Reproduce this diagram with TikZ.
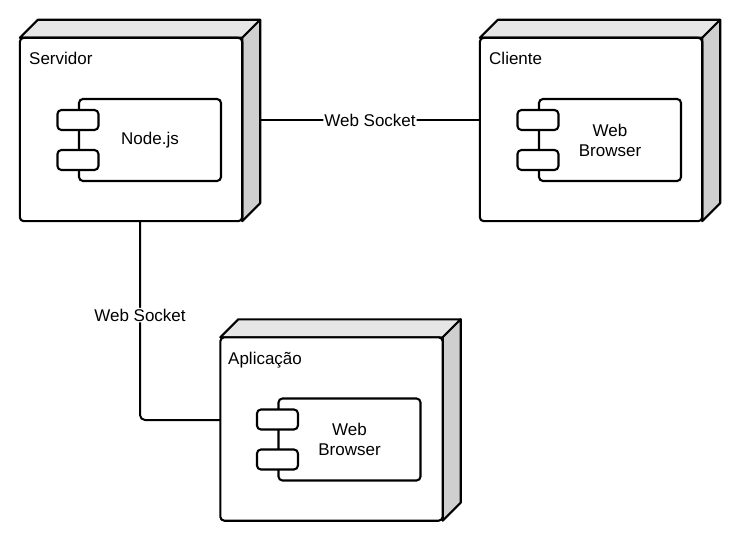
\documentclass[tikz,border=0pt]{standalone}
\usepackage{fontspec}
\setmainfont{Liberation Sans}
\usetikzlibrary{calc}
\definecolor{topgray}{HTML}{E6E6E6}
\definecolor{sidegray}{HTML}{CFCFCF}
\tikzset{
  solid3d/.style={minimum width=240pt, minimum height=201pt, inner sep=0pt, draw=none},
  face/.style={draw=black, line width=2.1pt, line join=round},
  comp/.style={draw=black, line width=2.1pt, rounded corners=4pt, fill=white, minimum width=142pt, minimum height=82pt, align=center, font=\fontsize{17}{20}\selectfont},
  port/.style={draw=black, line width=2.1pt, rounded corners=4pt, fill=white, minimum width=41pt, minimum height=20pt, inner sep=0pt},
  ttl/.style={anchor=base west, inner sep=0pt, font=\fontsize{17}{20}\selectfont},
  conn/.style={draw=black, line width=2pt, rounded corners=5pt},
  lbl/.style={fill=white, inner sep=1pt, font=\fontsize{17}{20}\selectfont}
}
\newcommand\deploybox[1]{%
  \draw[face, fill=topgray] ($(#1.north west)+(0,18)$) -- ($(#1.north west)+(18,0)$) -- (#1.north east) -- ($(#1.north east)+(-18,18)$) -- cycle;
  \draw[face, fill=sidegray] ($(#1.north east)+(-18,18)$) -- (#1.north east) -- ($(#1.south east)+(0,-18)$) -- ($(#1.south east)+(-18,0)$) -- cycle;
  \draw[face, fill=white, rounded corners=4pt] ($(#1.north west)+(0,18)$) rectangle ($(#1.south east)+(-18,0)$);
}
\begin{document}
\begin{tikzpicture}[x=1pt, y=-1pt]
\path[use as bounding box, fill=white] (0,0) rectangle (738,534);

% deployment nodes
\node[solid3d] (srv) at (140,120.5) {};
\node[solid3d] (cli) at (600,120.5) {};
\node[solid3d] (app) at (340.5,420) {};

% connectors
\draw[conn] (srv.east) -- node[lbl] {Web Socket} (cli.west);
\draw[conn] (srv.south) |- node[lbl, pos=0.236] {Web Socket} (app.west);

\deploybox{srv}
\deploybox{cli}
\deploybox{app}

\node[ttl] (srvt) at (29,65) {Servidor};
\node[ttl] (clit) at (489,65) {Cliente};
\node[ttl] (appt) at (228,364) {Aplicação};

% components
\node[comp] (srvc) at (150,140) {Node.js};
\node[port] (srvp1) at ($(srvc.west)+(0,-20)$) {};
\node[port] (srvp2) at ($(srvc.west)+(0,20)$) {};

\node[comp] (clic) at (610,140) {Web\\Browser};
\node[port] (clip1) at ($(clic.west)+(0,-20)$) {};
\node[port] (clip2) at ($(clic.west)+(0,20)$) {};

\node[comp] (appc) at (349.5,439.5) {Web\\Browser};
\node[port] (appp1) at ($(appc.west)+(0,-20)$) {};
\node[port] (appp2) at ($(appc.west)+(0,20)$) {};
\end{tikzpicture}
\end{document}
